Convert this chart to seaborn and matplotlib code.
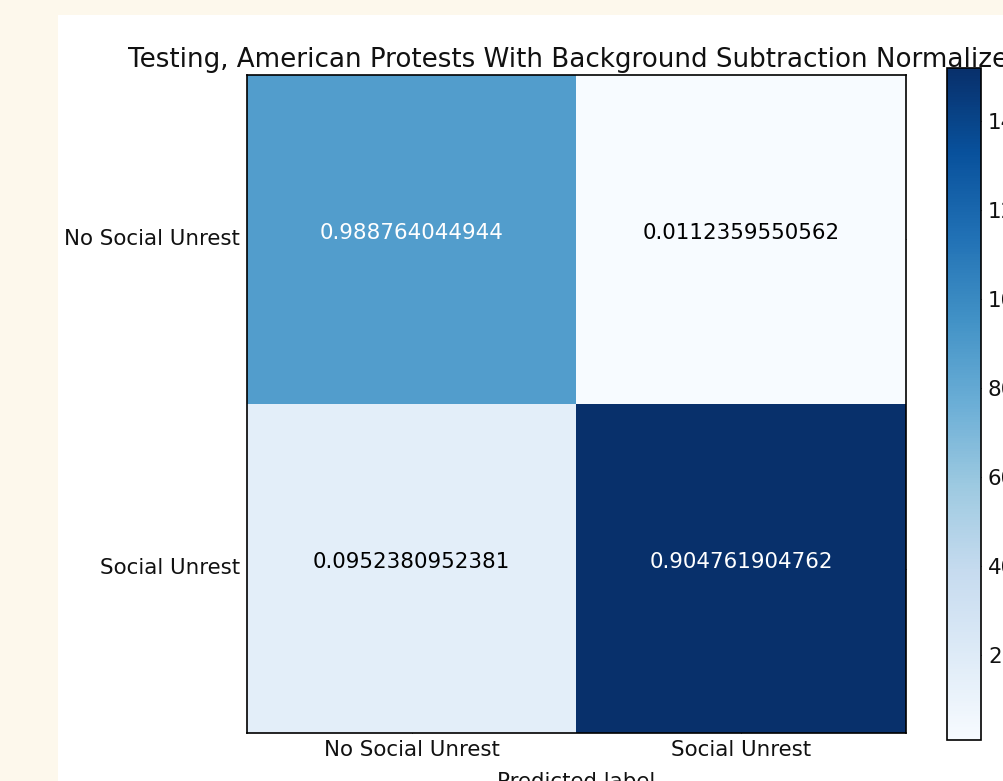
import matplotlib
matplotlib.use("Agg")
import matplotlib.pyplot as plt
from matplotlib.patches import Rectangle
import seaborn as sns
import pandas as pd
import numpy as np

# data
class_names = ["No Social Unrest", "Social Unrest"]
# raw counts behind the colours (colorbar runs ~1..152)
counts = [[88, 1],
          [16, 152]]
# normalized values printed in the cells
norm_text = [["0.988764044944", "0.0112359550562"],
             ["0.0952380952381", "0.904761904762"]]

title = "Testing, American Protests With Background Subtraction Normalized"
cbar_ticks = [20, 40, 60, 80, 100, 120, 140]

W, H = 1004, 781
FS = 15.4

sns.set_style("white")
plt.rcParams['font.family'] = ['DejaVu Sans']

fig = plt.figure(figsize=(W / 100, H / 100), dpi=100, facecolor="#fdf8ec")
# white figure panel sitting inside the page
fig.add_artist(Rectangle((58 / W, 0), 1, (H - 15) / H, transform=fig.transFigure,
                         facecolor="white", edgecolor="none", zorder=-10))

ax = fig.add_axes([247 / W, (H - 733) / H, 659 / W, 658 / H])
cax = fig.add_axes([947 / W, (H - 740) / H, 34 / W, 672 / H])

df = pd.DataFrame(counts, index=class_names, columns=class_names)
arr = np.array(counts)
sns.heatmap(df, ax=ax, cbar_ax=cax, cmap="Blues", vmin=arr.min(), vmax=arr.max(),
            annot=False, linewidths=0, square=False)

# cell annotations, sklearn-example style (baseline at cell centre)
thresh = arr.max() / 2.0
for i in range(len(class_names)):
    for j in range(len(class_names)):
        ax.text(j + 0.5, i + 0.5, norm_text[i][j], ha="center", va="baseline",
                fontsize=FS, color="white" if counts[i][j] > thresh else "black")

# axes frame and ticks in the old classic look
for sp in ax.spines.values():
    sp.set_visible(True)
    sp.set_color("black")
    sp.set_linewidth(1.2)
ax.tick_params(direction="in", length=5.5, width=0.7, color="black",
               top=True, right=True, bottom=True, left=True,
               labelsize=FS, pad=5, labelcolor="#111111")
ax.set_xticklabels(class_names, rotation=0)
ax.set_yticklabels(class_names, rotation=0)
ax.set_xlabel("Predicted label", fontsize=FS, labelpad=9, color="#111111")
ax.set_ylabel("")
ax.set_title(title, fontsize=18.8, pad=6, color="#111111")

cbar = ax.collections[0].colorbar
cbar.outline.set_visible(True)
cbar.outline.set_edgecolor("black")
cbar.outline.set_linewidth(1.2)
cbar.set_ticks(cbar_ticks)
cax.tick_params(direction="in", length=5.5, width=0.7, color="black",
                labelsize=FS, pad=5, labelcolor="#111111")

fig.savefig("out.png", dpi=100, facecolor=fig.get_facecolor())
